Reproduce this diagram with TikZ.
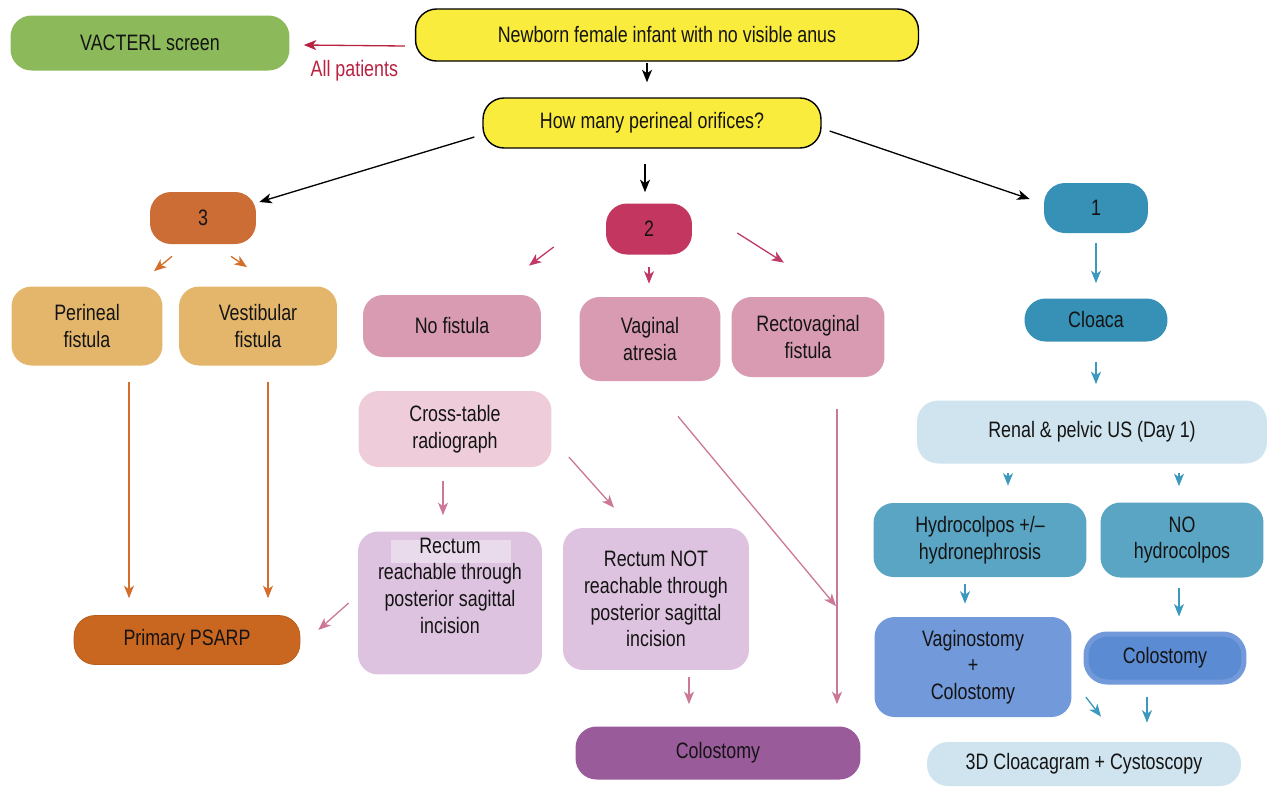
\documentclass[tikz,border=0pt]{standalone}
\usepackage{fontspec}
\setmainfont{Liberation Sans}[FakeStretch=0.8]
\usetikzlibrary{calc,arrows.meta}
\definecolor{vacgreen}{HTML}{8CBA5A}
\definecolor{yel}{HTML}{FAEC3C}
\definecolor{redarr}{HTML}{B8213F}
\definecolor{org}{HTML}{CC6D35}
\definecolor{orglight}{HTML}{E3B66C}
\definecolor{orgarr}{HTML}{D46F2B}
\definecolor{psarpc}{HTML}{C9661F}
\definecolor{mag}{HTML}{C2365F}
\definecolor{pinkarr}{HTML}{C03A66}
\definecolor{pinklow}{HTML}{CC7898}
\definecolor{pinkbox}{HTML}{D99BB1}
\definecolor{pinklight}{HTML}{EECCD9}
\definecolor{lav}{HTML}{DDC3DF}
\definecolor{lavhi}{HTML}{E9DBEC}
\definecolor{purp}{HTML}{9A5B9B}
\definecolor{tealc}{HTML}{3790B6}
\definecolor{bluearr}{HTML}{3C98BC}
\definecolor{paleblue}{HTML}{CFE4EE}
\definecolor{midblue}{HTML}{5AA5C3}
\definecolor{periw}{HTML}{7299D9}
\definecolor{coloin}{HTML}{5A8BD3}
\definecolor{txt}{HTML}{141414}
\begin{document}
\begin{tikzpicture}[x=0.02cm, y=-0.02cm,
    >={Stealth[length=0.25cm,width=0.2cm,inset=0.07cm]},
    box/.style={rounded corners=0.4cm, inner sep=0pt, align=center, text=txt,
      font=\fontsize{12.7}{15.2}\selectfont},
    pill/.style={box, rounded corners=0.42cm},
    yelbox/.style={pill, fill=yel, draw=black, line width=0.8pt},
    arr/.style={->, line width=0.75pt}]
    \useasboundingbox (0,0) rectangle (1269,789);
    % top
    \node[pill, fill=vacgreen, minimum width=5.58cm, minimum height=1.1cm] (vacterl) at (150,43) {VACTERL screen};
    \node[yelbox, minimum width=10.06cm, minimum height=1.04cm] (newborn) at (667,35) {Newborn female infant with no visible anus};
    \node[yelbox, minimum width=6.76cm, minimum height=1cm] (howmany) at (652,123) {How many perineal orifices?};
    \node[pill, fill=org, minimum width=2.12cm, minimum height=1.04cm] (three) at (203,218) {3};
    \node[pill, fill=mag, minimum width=1.72cm, minimum height=1.02cm] (two) at (649,229) {2};
    \node[pill, fill=tealc, minimum width=2.08cm, minimum height=1cm] (one) at (1096,208) {1};
    \draw[arr, redarr] ($(newborn.west)+(-10,11)$) -- node[below=8pt, box, text=redarr] {All patients} ($(vacterl.east)+(14,2)$);
    \draw[arr] ($(newborn.south)+(-20,1)$) -- ($(howmany.north)+(-5,-15)$);
    \draw[arr] ($(howmany.west)+(-8,14)$) -- ($(three.east)+(3,-16)$);
    \draw[arr] ($(howmany.south)+(-7,15)$) -- ($(two.north)+(-4,-11)$);
    \draw[arr] ($(howmany.east)+(8,8)$) -- ($(one.west)+(-14,-9)$);
    % 3 orifices
    \node[box, fill=orglight, minimum width=3.02cm, minimum height=1.58cm] (perineal) at (87,326) {Perineal\\fistula};
    \node[box, fill=orglight, minimum width=3.16cm, minimum height=1.58cm] (vestib) at (258,326) {Vestibular\\fistula};
    \node[pill, fill=psarpc, draw=psarpc!90!black, minimum width=4.52cm, minimum height=0.98cm] (psarp) at (187,640) {Primary PSARP};
    \draw[arr, orgarr] ($(three.south)+(-31,12)$) -- ($(perineal.north)+(67,-15)$);
    \draw[arr, orgarr] ($(three.south)+(28,12)$) -- ($(vestib.north)+(-11,-19)$);
    \draw[arr, orgarr] ($(perineal.south)+(42,16)$) -- ($(psarp.north)+(-58,-17)$);
    \draw[arr, orgarr] ($(vestib.south)+(10,16)$) -- ($(psarp.north)+(81,-17)$);
    % 2 orifices
    \node[box, fill=pinkbox, minimum width=3.56cm, minimum height=1.24cm] (nofist) at (452,326) {No fistula};
    \node[box, fill=pinkbox, minimum width=2.82cm, minimum height=1.68cm] (vaginal) at (650,339) {Vaginal\\atresia};
    \node[box, fill=pinkbox, minimum width=3.06cm, minimum height=1.6cm] (rectovag) at (808,337) {Rectovaginal\\fistula};
    \node[box, fill=pinklight, minimum width=3.86cm, minimum height=1.52cm] (crosstab) at (455,429) {Cross-table\\radiograph};
    \node[box, fill=lav, minimum width=3.68cm, minimum height=2.86cm,
      path picture={\fill[lavhi, sharp corners] ($(path picture bounding box.north)+(-1.18cm,-0.16cm)$) rectangle ($(path picture bounding box.north)+(1.22cm,-0.62cm)$);}]
      (reach) at (450,603) {Rectum\\reachable through\\posterior sagittal\\incision\\\strut};
    \node[box, fill=lav, minimum width=3.72cm, minimum height=2.84cm] (notreach) at (656,599) {Rectum NOT\\reachable through\\posterior sagittal\\incision};
    \node[pill, fill=purp, minimum width=5.7cm, minimum height=1.06cm] (colost) at (718,753) {Colostomy};
    \draw[arr, pinkarr] ($(two.west)+(-52,18)$) -- ($(nofist.north)+(77,-29)$);
    \draw[arr, pinkarr] ($(two.south)+(0,12)$) -- ($(vaginal.north)+(-1,-13)$);
    \draw[arr, pinkarr] ($(two.east)+(45,4)$) -- ($(rectovag.north)+(-24,-34)$);
    \draw[arr, pinklow] ($(crosstab.south)+(-12,14)$) -- ($(reach.north)+(-7,-16)$);
    \draw[arr, pinklow] ($(crosstab.east)+(17,28)$) -- ($(notreach.north)+(-42,-20)$);
    \draw[arr, pinklow] ($(reach.west)+(-9,0)$) -- ($(psarp.east)+(18,-10)$);
    \draw[arr, pinklow] ($(notreach.south)+(33,7)$) -- ($(colost.north)+(-29,-22)$);
    \draw[arr, pinklow] ($(vaginal.south)+(28,35)$) -- ($(colost.north)+(118,-120)$);
    \draw[arr, pinklow] ($(rectovag.south)+(29,32)$) -- ($(colost.north)+(119,-22)$);
    % 1 orifice
    \node[pill, fill=tealc, minimum width=2.86cm, minimum height=0.86cm] (cloaca) at (1096,320) {Cloaca};
    \node[pill, fill=paleblue, minimum width=7cm, minimum height=1.26cm] (renal) at (1092,432) {Renal \& pelvic US (Day 1)};
    \node[box, fill=midblue, minimum width=4.26cm, minimum height=1.48cm] (hydro) at (980,540) {Hydrocolpos +/--\\hydronephrosis};
    \node[box, fill=midblue, minimum width=3.26cm, minimum height=1.5cm] (nohydro) at (1182,540) {NO\\hydrocolpos};
    \node[box, fill=periw, minimum width=3.94cm, minimum height=2cm] (vagino) at (973,667) {Vaginostomy\\+\\Colostomy};
    \node[pill, fill=coloin, draw=periw, line width=0.1cm, minimum width=3.16cm, minimum height=0.96cm] (colo2) at (1165,658) {Colostomy};
    \node[pill, fill=paleblue, minimum width=6.28cm, minimum height=0.88cm] (cloacag) at (1084,764) {3D Cloacagram + Cystoscopy};
    \draw[arr, bluearr] ($(one.south)+(0,10)$) -- ($(cloaca.north)+(0,-15)$);
    \draw[arr, bluearr] ($(cloaca.south)+(0,20)$) -- ($(renal.north)+(4,-16)$);
    \draw[arr, bluearr] ($(renal.south)+(-84,9)$) -- ($(hydro.north)+(28,-17)$);
    \draw[arr, bluearr] ($(renal.south)+(87,9)$) -- ($(nohydro.north)+(-3,-16)$);
    \draw[arr, bluearr] ($(hydro.south)+(-15,7)$) -- ($(vagino.north)+(-8,-13)$);
    \draw[arr, bluearr] ($(nohydro.south)+(-3,10)$) -- ($(colo2.north)+(14,-15)$);
    \draw[arr, bluearr] ($(vagino.east)+(14,30)$) -- ($(cloacag.north)+(17,-25)$);
    \draw[arr, bluearr] ($(colo2.south)+(-18,12)$) -- ($(cloacag.north)+(63,-19)$);
\end{tikzpicture}
\end{document}
